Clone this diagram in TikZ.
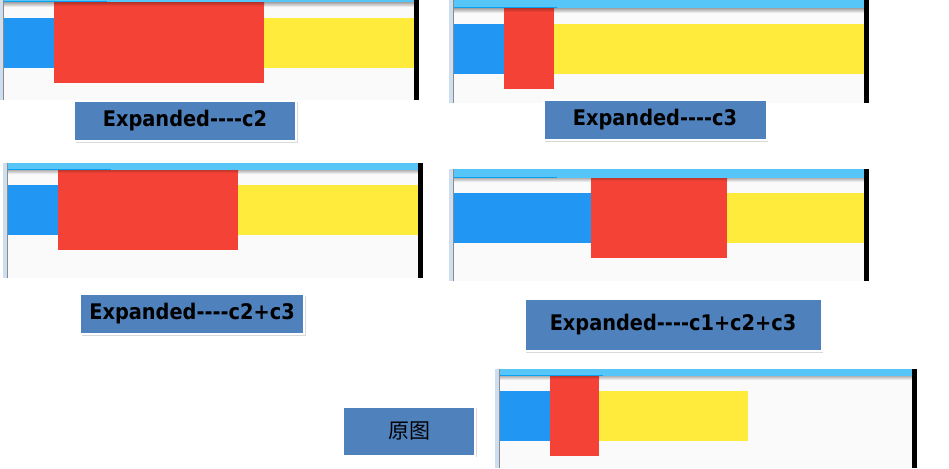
\documentclass[tikz,border=0pt]{standalone}
\usepackage{fontspec}
\usetikzlibrary{shadows}
\newfontfamily\labelfont{DejaVu Sans Condensed}
\newfontfamily\cjkfont{Noto Sans CJK SC}
\definecolor{barblue}{RGB}{33,150,243}
\definecolor{barred}{RGB}{244,67,54}
\definecolor{baryellow}{RGB}{255,235,59}
\definecolor{topblue}{RGB}{86,197,248}
\definecolor{stripblue}{RGB}{10,160,240}
\definecolor{screenbg}{RGB}{250,250,250}
\definecolor{edgeblue}{RGB}{205,222,240}
\definecolor{labelblue}{RGB}{79,129,189}

% #1 left, #2 top, #3 content top, #4 bottom, #5 right,
% #6 blue end, #7 red end, #8 yellow end
\newcommand{\drawscreen}[8]{%
  \fill[edgeblue] (#1-4,#2) rectangle (#1,#4);
  \fill[screenbg] (#1,#3) rectangle (#5,#4);
  \fill[topblue] (#1,#2) rectangle (#5,#3);
  \fill[stripblue] (#1,#3-1.5) rectangle (#1+104,#3);
  \shade[top color=black!30, bottom color=screenbg] (#1,#3) rectangle (#5,#3+4);
  \fill[barblue] (#1,#3+15) rectangle (#6,#3+65);
  \fill[baryellow] (#7,#3+15) rectangle (#8,#3+65);
  \fill[barred] (#6,#3) rectangle (#7,#3+80);
  \shade[top color=barred!80!black, bottom color=barred] (#6,#3) rectangle (#7,#3+3);
  \draw[black!45, line width=1pt] (#1,#2) -- (#1,#4);
  \fill[black] (#5,#2) rectangle (#5+5,#4);
}

\begin{document}
\begin{tikzpicture}[
    x=1pt, y=-1pt,
    labelbox/.style={rectangle, fill=labelblue, draw=white, line width=2pt,
      drop shadow={opacity=0.3, shadow xshift=1.5pt, shadow yshift=-1.5pt},
      inner sep=0pt, text=black,
      font=\labelfont\bfseries\fontsize{21.5}{24}\selectfont}
]
\useasboundingbox (0,0) rectangle (949,468);

\drawscreen{3}{0}{3}{100}{414}{54}{264}{414}
\drawscreen{453}{0}{9}{103}{864}{504}{554}{864}
\drawscreen{7}{163}{170}{278}{418}{58}{238}{418}
\drawscreen{453}{169}{178}{281}{864}{591}{727}{864}
\drawscreen{499}{369}{376}{468}{912}{550}{599}{748}

\node[labelbox, minimum width=222pt, minimum height=40pt] (lblctwo) at (185,121) {Expanded----c2};
\node[labelbox, minimum width=223pt, minimum height=40pt] (lblcthree) at (655,120) {Expanded----c3};
\node[labelbox, minimum width=224pt, minimum height=40pt] (lblctwothree) at (192,314) {Expanded----c2+c3};
\node[labelbox, minimum width=297pt, minimum height=52pt] (lblcall) at (673,325) {Expanded----c1+c2+c3};
\node[labelbox, minimum width=132pt, minimum height=49pt,
      font=\cjkfont\fontsize{21}{24}\selectfont] (lbloriginal) at (409,431) {原图};

\end{tikzpicture}
\end{document}
